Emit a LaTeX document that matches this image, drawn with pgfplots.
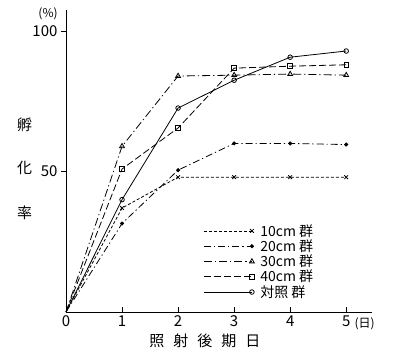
\documentclass[border=0pt]{standalone}
\usepackage{fontspec}
\setmainfont{Noto Sans CJK JP}
\usepackage{pgfplots}
\pgfplotsset{compat=1.18}
\begin{document}
\begin{tikzpicture}
\begin{axis}[
  at={(0pt,0pt)}, anchor=origin,
  scale only axis,
  width=306pt, height=302pt,
  xmin=0, xmax=5.46, ymin=0, ymax=107.5,
  axis lines=left,
  axis line style={-, line width=0.9pt},
  xtick={0,1,2,3,4,5},
  ytick={50,100},
  xtick align=inside,
  ytick align=outside,
  major tick length=5pt,
  tick style={line width=0.8pt, black},
  /pgf/number format/assume math mode=true,
  ticklabel style={font=\fontsize{15}{17}\selectfont},
  clip=false,
  legend style={at={(axis cs:2.45,32)}, anchor=north west, draw=none, fill=none,
    font=\fontsize{14}{16}\selectfont, row sep=-2pt, inner sep=0pt,
    nodes={inner xsep=6pt}},
  legend cell align=left,
  legend image code/.code={\draw[#1, mark indices={2}] plot coordinates {(0pt,0pt) (48pt,0pt)};},
  every axis plot/.append style={line width=0.8pt, black, mark size=2.3pt, mark indices={2,3,4,5,6}, mark options={solid}},
]
\addplot[densely dashed, mark=x, mark size=2.6pt] coordinates {(0,0) (1,37) (2,48) (3,48) (4,48) (5,48)};
\addlegendentry{10cm 群}
\addplot[dash pattern=on 7pt off 3pt on 1.2pt off 3pt, mark=*, mark size=1.6pt] coordinates {(0,0) (1,31.5) (2,50.5) (3,60) (4,60) (5,59.6)};
\addlegendentry{20cm 群}
\addplot[dash pattern=on 8pt off 3pt on 1.2pt off 3pt, mark=triangle, mark size=2.8pt] coordinates {(0,0) (1,59) (2,84) (3,84.3) (4,84.7) (5,84.3)};
\addlegendentry{30cm 群}
\addplot[dash pattern=on 7pt off 3pt, mark=square] coordinates {(0,0) (1,50.9) (2,65.5) (3,86.8) (4,87.5) (5,88)};
\addlegendentry{40cm 群}
\addplot[solid, mark=o] coordinates {(0,0) (1,40) (2,72.6) (3,82.5) (4,90.7) (5,92.9)};
\addlegendentry{対照 群}
\node[font=\fontsize{15}{17}\selectfont] at (axis cs:-0.74,66.5) {孵};
\node[font=\fontsize{15}{17}\selectfont] at (axis cs:-0.74,51.2) {化};
\node[font=\fontsize{15}{17}\selectfont] at (axis cs:-0.74,35.2) {率};
\node[font=\fontsize{12}{14}\selectfont] at (axis cs:-0.32,106) {(\%)};
\node[font=\fontsize{12}{14}\selectfont] at (axis cs:5.33,-4.1) {(日)};
\node[font=\fontsize{15}{17}\selectfont] at (axis cs:2.48,-10.1) {照\hspace{0.6em}射\hspace{0.6em}後\hspace{0.6em}期\hspace{0.6em}日};
\end{axis}
\pgfresetboundingbox
\path (-66pt,-45pt) rectangle (328pt,312pt);
\end{tikzpicture}
\end{document}
